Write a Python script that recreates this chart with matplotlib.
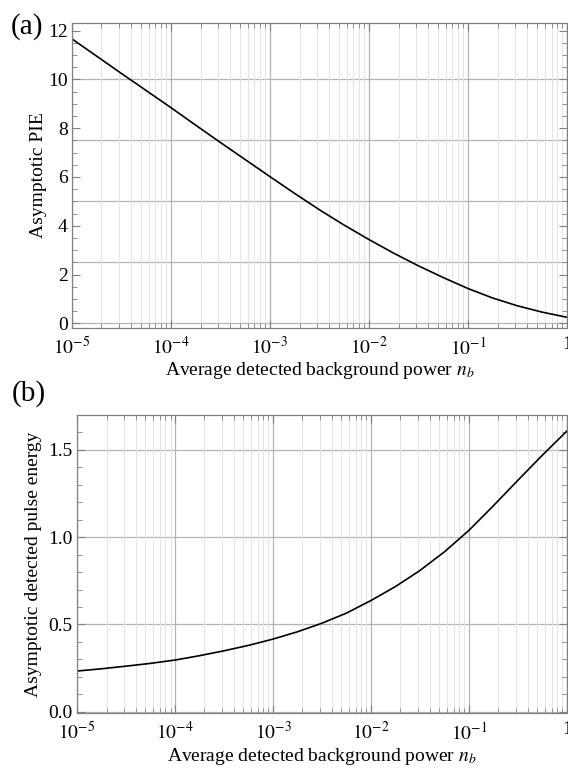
import numpy as np
import matplotlib
matplotlib.use("Agg")
import matplotlib.pyplot as plt
from matplotlib.ticker import LogLocator, MultipleLocator, NullFormatter, FormatStrFormatter

plt.rcParams['font.family'] = ['Liberation Serif', 'DejaVu Serif']
plt.rcParams['mathtext.fontset'] = 'stix'

# valores, em passos de 1/4 de decada (expoentes de 10)
expoentes = [-5, -4.75, -4.5, -4.25, -4, -3.75, -3.5, -3.25, -3, -2.75, -2.5,
             -2.25, -2, -1.75, -1.5, -1.25, -1, -0.75, -0.5, -0.25, 0]
nb = [10.0 ** e for e in expoentes]
pie = [11.67, 10.96, 10.25, 9.55, 8.85, 8.13, 7.42, 6.72, 6.02, 5.33, 4.66,
       4.03, 3.44, 2.88, 2.36, 1.88, 1.43, 1.04, 0.72, 0.46, 0.25]
energia = [0.233, 0.246, 0.261, 0.277, 0.296, 0.321, 0.349, 0.380, 0.416, 0.458, 0.507,
           0.565, 0.637, 0.717, 0.809, 0.916, 1.039, 1.180, 1.326, 1.470, 1.608]

xticks = [1e-5, 1e-4, 1e-3, 1e-2, 1e-1, 1]
xticklabels = [r'$10^{-5}$', r'$10^{-4}$', r'$10^{-3}$', r'$10^{-2}$', r'$10^{-1}$', '1']

grade_a = [0, 2.5, 5, 7.5, 10]
grade_b = [0, 0.5, 1.0, 1.5]

xlabel = r'Average detected background power $n_b$'

fig = plt.figure(figsize=(5.68, 7.69), dpi=100)
ax1 = fig.add_axes([0.1262, 0.5735, 0.8718, 0.3965])
ax2 = fig.add_axes([0.1356, 0.0728, 0.8624, 0.3875])

cor_major = '#b4b4b4'
cor_minor = '#e4e4e4'
cor_frame = '#808080'


def estilo(ax):
    ax.set_xscale('log')
    ax.set_xlim(1e-5, 1)
    ax.set_xticks(xticks)
    ax.set_xticklabels(xticklabels)
    ax.xaxis.set_minor_locator(LogLocator(base=10, subs=np.arange(2, 10), numticks=10))
    ax.xaxis.set_minor_formatter(NullFormatter())
    ax.grid(True, axis='x', which='major', color=cor_major, linewidth=0.9)
    ax.grid(True, axis='x', which='minor', color=cor_minor, linewidth=0.8)
    ax.tick_params(which='both', direction='in', top=True, right=True,
                   color=cor_frame, labelsize=14)
    ax.tick_params(axis='x', pad=6)
    ax.tick_params(axis='y', pad=3)
    ax.tick_params(which='major', length=6, width=0.8)
    ax.tick_params(which='minor', length=3.5, width=0.6)
    for s in ax.spines.values():
        s.set_color(cor_frame)
        s.set_linewidth(0.9)
    ax.set_axisbelow(True)


# Painel (a)
estilo(ax1)
for g in grade_a:
    ax1.axhline(g, color=cor_major, linewidth=0.9, zorder=0.5)
ax1.plot(nb, pie, color='black', linewidth=1.2)
ax1.set_ylim(-0.19, 12.31)
ax1.yaxis.set_major_locator(MultipleLocator(2))
ax1.yaxis.set_minor_locator(MultipleLocator(0.5))
ax1.set_ylabel('Asymptotic PIE', fontsize=14)
ax1.yaxis.set_label_coords(-0.05, 0.5)
ax1.set_xlabel(xlabel, fontsize=14, labelpad=1)

# Painel (b)
estilo(ax2)
for g in grade_b:
    ax2.axhline(g, color=cor_major, linewidth=0.9, zorder=0.5)
ax2.plot(nb, energia, color='black', linewidth=1.2)
ax2.set_ylim(-0.0075, 1.70)
ax2.yaxis.set_major_locator(MultipleLocator(0.5))
ax2.yaxis.set_minor_locator(MultipleLocator(0.1))
ax2.yaxis.set_major_formatter(FormatStrFormatter('%.1f'))
ax2.set_ylabel('Asymptotic detected pulse energy', fontsize=14)
ax2.yaxis.set_label_coords(-0.072, 0.5)
ax2.set_xlabel(xlabel, fontsize=14, labelpad=2)

fig.text(0.048, 0.966, '(a)', fontsize=21, ha='center', va='center')
fig.text(0.051, 0.488, '(b)', fontsize=21, ha='center', va='center')

fig.savefig('out.png', dpi=100)
